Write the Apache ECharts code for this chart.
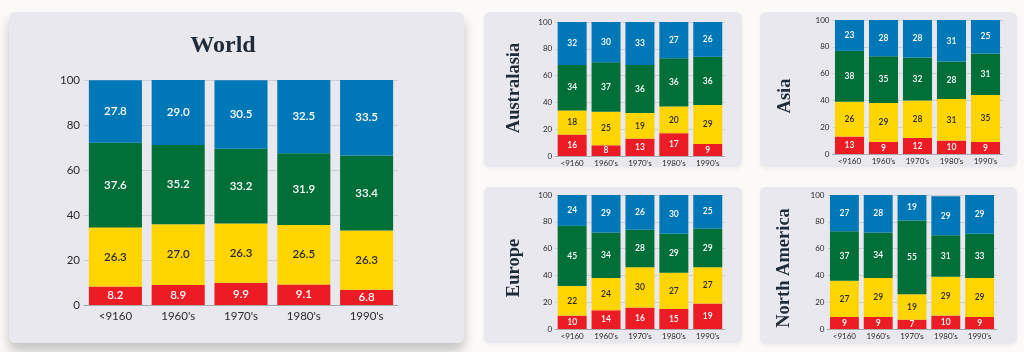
<!DOCTYPE html>
<html>
<head>
<meta charset="utf-8">
<script src="https://cdn.jsdelivr.net/npm/echarts@6/dist/echarts.min.js"></script>
<style>
  html, body { margin: 0; padding: 0; background: #fbfaf9; }
  #chart { width: 1024px; height: 352px; }
</style>
</head>
<body>
<div id="chart"></div>
<script>
// ---- data ----
const categories = ["<9160", "1960's", "1970's", "1980's", "1990's"];
const regions = ["World", "Australasia", "Asia", "Europe", "North America"];

const worldRed    = [8.2, 8.9, 9.9, 9.1, 6.8];
const worldYellow = [26.3, 27.0, 26.3, 26.5, 26.3];
const worldGreen  = [37.6, 35.2, 33.2, 31.9, 33.4];
const worldBlue   = [27.8, 29.0, 30.5, 32.5, 33.5];

const australasiaRed    = [16, 8, 13, 17, 9];
const australasiaYellow = [18, 25, 19, 20, 29];
const australasiaGreen  = [34, 37, 36, 36, 36];
const australasiaBlue   = [32, 30, 33, 27, 26];

const asiaRed    = [13, 9, 12, 10, 9];
const asiaYellow = [26, 29, 28, 31, 35];
const asiaGreen  = [38, 35, 32, 28, 31];
const asiaBlue   = [23, 28, 28, 31, 25];

const europeRed    = [10, 14, 16, 15, 19];
const europeYellow = [22, 24, 30, 27, 27];
const europeGreen  = [45, 34, 28, 29, 29];
const europeBlue   = [24, 29, 26, 30, 25];

const northAmericaRed    = [9, 9, 7, 10, 9];
const northAmericaYellow = [27, 29, 19, 29, 29];
const northAmericaGreen  = [37, 34, 55, 31, 33];
const northAmericaBlue   = [27, 28, 19, 29, 29];

// ---- layout / style ----
const colors = { red: '#ec1c24', yellow: '#ffd500', green: '#006f38', blue: '#0077b7' };
const labelColors = { red: '#ffffff', yellow: '#2a2a2a', green: '#ffffff', blue: '#ffffff' };
const layers = ['red', 'yellow', 'green', 'blue'];

const regionData = [
  { red: worldRed, yellow: worldYellow, green: worldGreen, blue: worldBlue },
  { red: australasiaRed, yellow: australasiaYellow, green: australasiaGreen, blue: australasiaBlue },
  { red: asiaRed, yellow: asiaYellow, green: asiaGreen, blue: asiaBlue },
  { red: europeRed, yellow: europeYellow, green: europeGreen, blue: europeBlue },
  { red: northAmericaRed, yellow: northAmericaYellow, green: northAmericaGreen, blue: northAmericaBlue }
];

const panels = [
  { x: 9,   y: 12,  w: 455, h: 331 },
  { x: 484, y: 12,  w: 258, h: 155 },
  { x: 760, y: 12,  w: 257, h: 155 },
  { x: 484, y: 187, w: 258, h: 156 },
  { x: 760, y: 187, w: 257, h: 157 }
];
const grids = [
  { left: 84,    top: 80,  width: 314,   height: 225 },
  { left: 555.2, top: 22,  width: 169.5, height: 134 },
  { left: 832.5, top: 20,  width: 170,   height: 134 },
  { left: 555.2, top: 195, width: 169.5, height: 134 },
  { left: 827.5, top: 195, width: 169,   height: 134 }
];
const titles = [
  { x: 223, y: 46,  rot: 0,           size: 24 },
  { x: 514, y: 88,  rot: Math.PI / 2, size: 18.5 },
  { x: 785, y: 96,  rot: Math.PI / 2, size: 18.5 },
  { x: 514, y: 268, rot: Math.PI / 2, size: 18.5 },
  { x: 784, y: 268, rot: Math.PI / 2, size: 18.5 }
];

const sans = 'Lato, "Open Sans", sans-serif';
const serif = '"Liberation Serif", "DejaVu Serif", serif';

const graphic = [];
panels.forEach((p, i) => {
  graphic.push({
    type: 'rect', z: -10,
    shape: { x: p.x, y: p.y, width: p.w, height: p.h, r: 6 },
    style: i === 0
      ? { fill: '#e9e8ee', shadowBlur: 12, shadowOffsetY: 8, shadowColor: 'rgba(0,0,0,0.22)' }
      : { fill: '#e9e8ee', shadowBlur: 4, shadowOffsetY: 2, shadowColor: 'rgba(0,0,0,0.05)' }
  });
});
titles.forEach((t, i) => {
  graphic.push({
    type: 'text', z: 10,
    x: t.x, y: t.y, rotation: t.rot,
    style: {
      text: regions[i], x: 0, y: 0,
      textAlign: 'center', textVerticalAlign: 'middle',
      font: 'bold ' + t.size + 'px ' + serif,
      fill: '#1f2b38'
    }
  });
});

const xAxes = [], yAxes = [], series = [];
grids.forEach((g, i) => {
  const big = i === 0;
  xAxes.push({
    type: 'category', gridIndex: i, data: categories,
    axisTick: { show: false },
    axisLine: { show: true, lineStyle: { color: '#a9a9b0', width: 1 } },
    axisLabel: { color: '#2a2a2a', fontFamily: sans, fontSize: big ? 11.5 : 8, margin: big ? 5 : 3 }
  });
  yAxes.push({
    type: 'value', gridIndex: i, min: 0, max: 100, interval: 20,
    axisLine: { show: false }, axisTick: { show: false },
    splitLine: { lineStyle: { color: '#cfced6', width: 1 } },
    axisLabel: { color: '#2a2a2a', fontFamily: sans, fontSize: big ? 11.5 : 8, margin: big ? 4 : 3 }
  });
  layers.forEach(layer => {
    series.push({
      type: 'bar', stack: 'r' + i, xAxisIndex: i, yAxisIndex: i,
      data: regionData[i][layer],
      barCategoryGap: big ? '15.5%' : '14.5%',
      itemStyle: { color: colors[layer] },
      label: {
        show: true, position: 'inside',
        color: labelColors[layer], fontFamily: sans,
        fontWeight: 600,
        fontSize: big ? 11.5 : 8.5,
        formatter: big ? (p => p.value.toFixed(1)) : (p => String(p.value))
      },
      emphasis: { disabled: true },
      animation: false
    });
  });
});

const chart = echarts.init(document.getElementById('chart'), null, { renderer: 'canvas' });
chart.setOption({
  backgroundColor: '#fbfaf9',
  animation: false,
  grid: grids.map(g => Object.assign({ containLabel: false }, g)),
  xAxis: xAxes,
  yAxis: yAxes,
  graphic: graphic,
  series: series
});
</script>
</body>
</html>
